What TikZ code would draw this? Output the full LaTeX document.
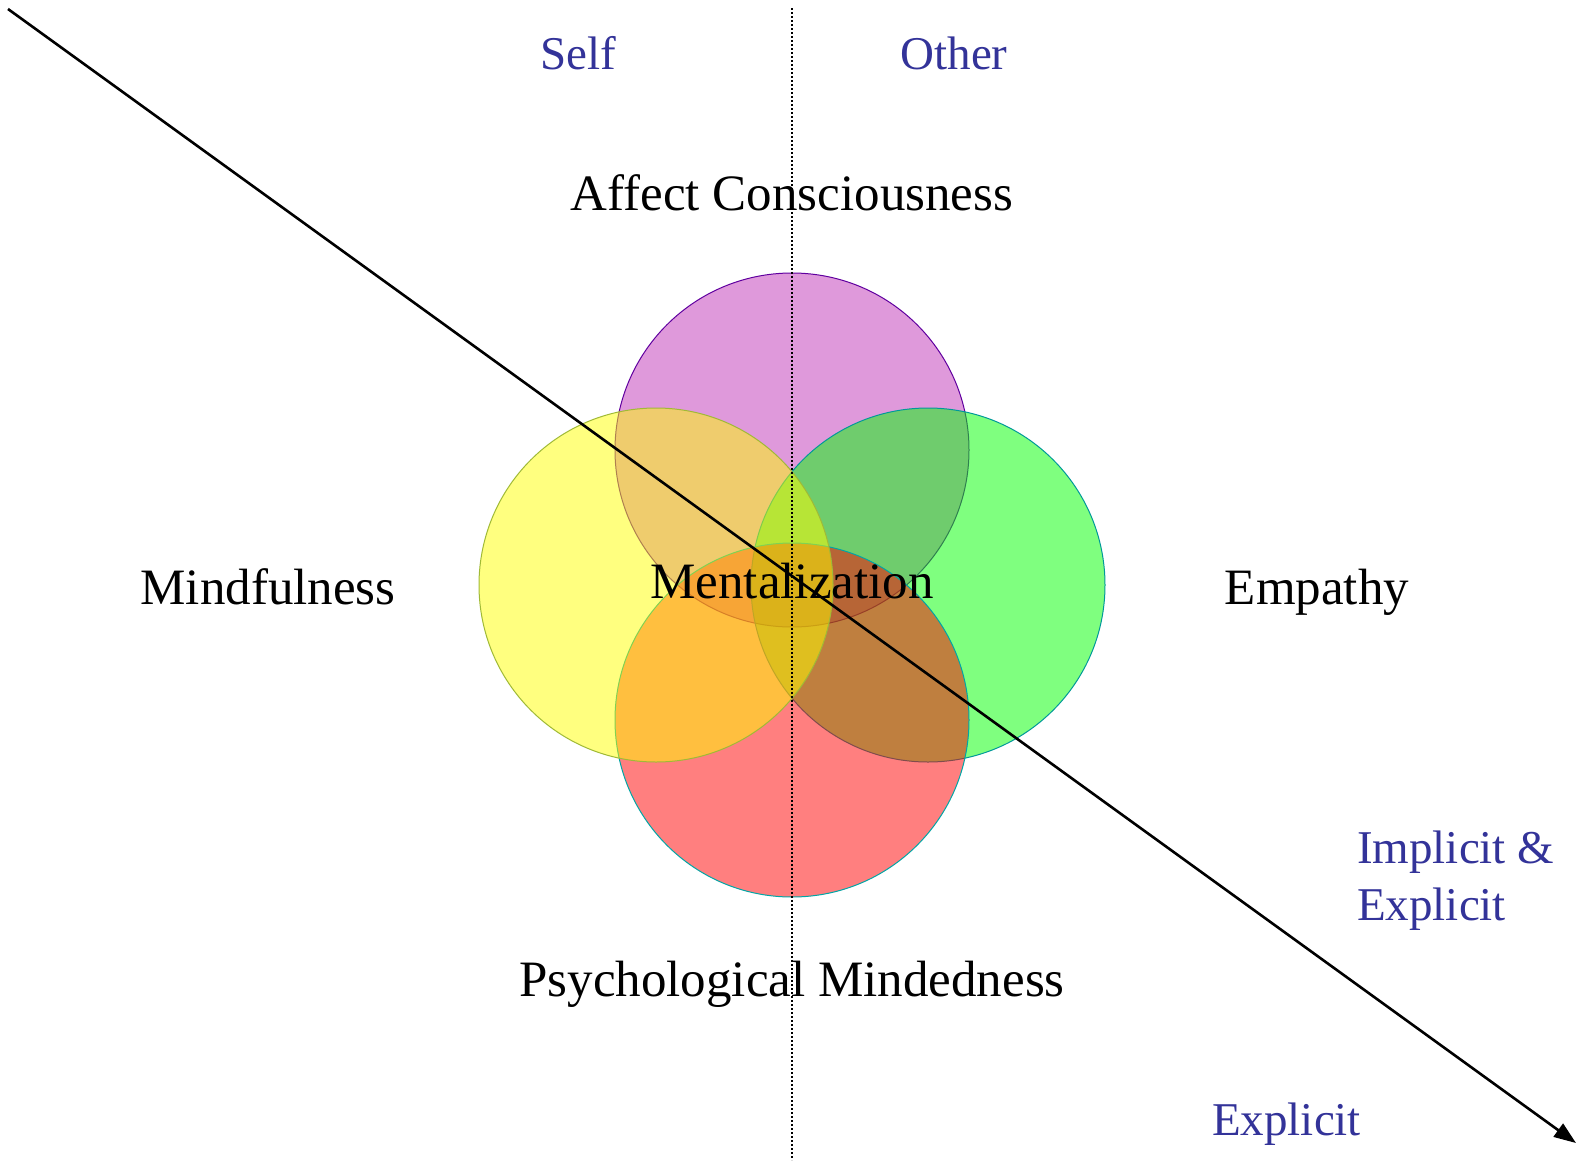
\documentclass[tikz,border=0pt]{standalone}
\usepackage{fontspec}
\setmainfont{Liberation Serif}
\usetikzlibrary{arrows.meta}
\definecolor{cpurple}{RGB}{193,53,185}
\definecolor{cyellow}{RGB}{255,255,0}
\definecolor{cgreen}{RGB}{0,255,0}
\definecolor{cred}{RGB}{255,0,0}
\definecolor{lblue}{RGB}{51,51,153}
\tikzset{
  venn/.style={fill opacity=0.5, line width=1pt},
  blacklabel/.style={anchor=base, inner sep=0pt, text=black, font=\fontsize{51}{56}\selectfont},
  bluelabel/.style={anchor=base, inner sep=0pt, text=lblue, font=\fontsize{47}{56}\selectfont},
  axis/.style={line width=2.6pt, -{Triangle[length=22pt,width=16pt]}},
  divider/.style={line width=1.5pt, dash pattern=on 2pt off 2pt}
}
\begin{document}
\begin{tikzpicture}[x=1pt,y=-1pt]
\useasboundingbox[fill=white] (0,0) rectangle (1580,1160);
% circles (stacking order: purple, green, red, yellow)
\filldraw[venn, fill=cpurple, draw=blue!50!purple] (792,450) circle[radius=177];
\filldraw[venn, fill=cgreen, draw=teal!80!cyan] (928,585) circle[radius=177];
\filldraw[venn, fill=cred, draw=teal!70!cyan] (792,720) circle[radius=177];
\filldraw[venn, fill=cyellow, draw=yellow!70!green!80!black] (656,585) circle[radius=177];
% labels
\node[bluelabel] (self) at (578,69) {Self};
\node[bluelabel] (other) at (954,69) {Other};
\node[blacklabel] (affect) at (792,210) {Affect Consciousness};
\node[blacklabel] (mind) at (268,604) {Mindfulness};
\node[blacklabel] (ment) at (792,598) {Mentalization};
\node[blacklabel] (emp) at (1317,604) {Empathy};
\node[blacklabel] (psych) at (792,996) {Psychological Mindedness};
\node[bluelabel, anchor=base west] (impl) at (1357,863) {Implicit \&};
\node[bluelabel, anchor=base west] (expl1) at (1357,920) {Explicit};
\node[bluelabel, anchor=base west] (expl2) at (1212,1135) {Explicit};
% lines
\coordinate (dtop) at (792,8);
\coordinate (dbot) at (792,1160);
\draw[divider] (dtop) -- (dbot);
\coordinate (astart) at (8,9);
\coordinate (aend) at (1576,1143);
\draw[axis] (astart) -- (aend);
\end{tikzpicture}
\end{document}
